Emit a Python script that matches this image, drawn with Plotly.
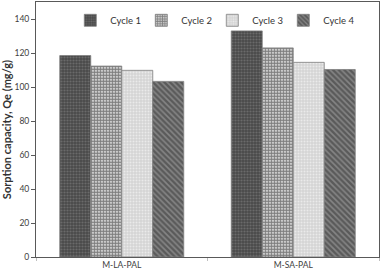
import plotly.graph_objects as go

categories = ["M-LA-PAL", "M-SA-PAL"]
series_names = ["Cycle 1", "Cycle 2", "Cycle 3", "Cycle 4"]
cycle1 = [118.5, 133.0]
cycle2 = [112.3, 123.0]
cycle3 = [109.8, 114.5]
cycle4 = [103.3, 110.3]
y_ticks = [0, 20, 40, 60, 80, 100, 120, 140]

values = [cycle1, cycle2, cycle3, cycle4]
patterns = [
    dict(shape=".", bgcolor="#4a4a4a", fgcolor="#8a8a8a", size=3, solidity=0.4),
    dict(shape=".", bgcolor="#ffffff", fgcolor="#000000", size=3, solidity=0.75),
    dict(shape=".", bgcolor="#d4d4d4", fgcolor="#ffffff", size=3, solidity=0.35),
    dict(shape="\\", bgcolor="#5a5a5a", fgcolor="#b0b0b0", size=4, solidity=0.4),
]

fig = go.Figure()
for name, vals, pat in zip(series_names, values, patterns):
    fig.add_trace(go.Bar(
        x=categories, y=vals, name=name,
        marker=dict(color=pat["bgcolor"], pattern=pat,
                    line=dict(color="#7f7f7f", width=0.8)),
    ))

fig.update_layout(
    width=381, height=275,
    margin=dict(l=36, r=2, t=2, b=18),
    paper_bgcolor="white", plot_bgcolor="white",
    barmode="group", bargap=0.277, bargroupgap=0,
    font=dict(family="Lato, Liberation Sans, sans-serif", size=8, color="#404040"),
    showlegend=True,
    legend=dict(orientation="h", x=0.1, xanchor="left", y=0.985, yanchor="top",
                bgcolor="rgba(0,0,0,0)", entrywidth=26, entrywidthmode="pixels",
                itemwidth=30, font=dict(size=9.5, color="#333333")),
    xaxis=dict(showline=True, linecolor="#595959", linewidth=1, mirror=True,
               ticks="outside", ticklen=3, tickcolor="#bfbfbf",
               tickson="boundaries", showgrid=False, tickfont=dict(size=8.5)),
    yaxis=dict(range=[0, 150], tickvals=y_ticks, showline=True, linecolor="#595959",
               linewidth=1, mirror=True, ticks="outside", ticklen=4, tickcolor="#595959",
               showgrid=False, zeroline=False, tickfont=dict(size=8.5),
               title=dict(text="<b>Sorption capacity, Qe (mg/g)</b>", standoff=4,
                          font=dict(size=11, color="#333333"))),
)

fig.write_html("out.html", config={"displayModeBar": False},
               post_script="document.body.style.margin='0';")
